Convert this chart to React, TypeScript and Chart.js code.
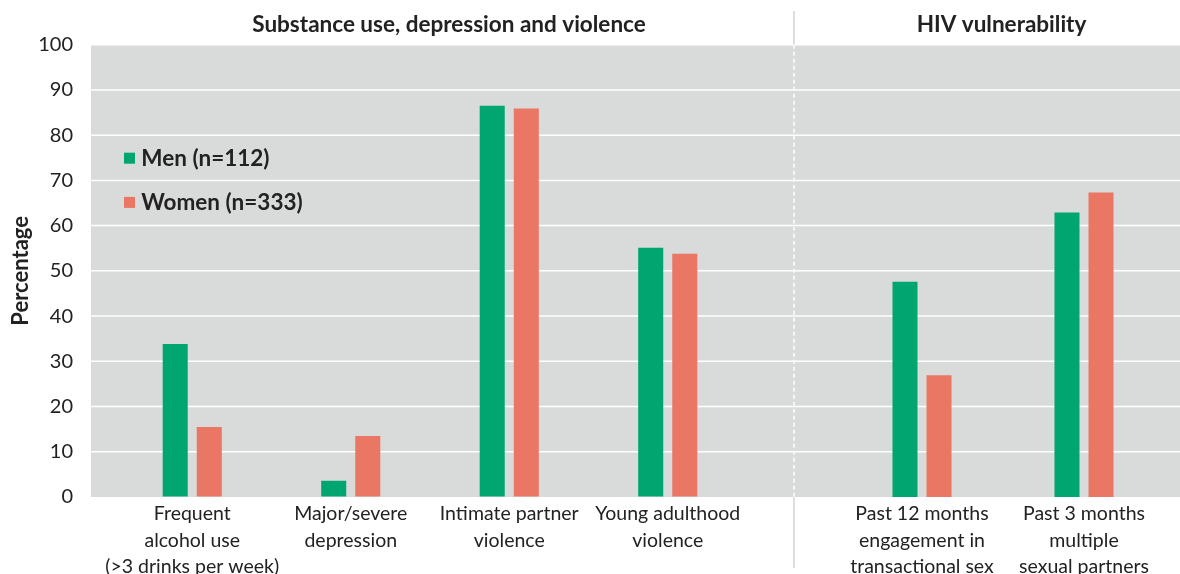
import React, { useEffect, useRef } from "react";
import { Chart, registerables } from "chart.js";

Chart.register(...registerables);

// ---- data -------------------------------------------------------------
const seriesNames = ["Men (n=112)", "Women (n=333)"];
const seriesColors = ["#00a56f", "#ea7763"];

const substanceTitle = "Substance use, depression and violence";
const substanceCategories = [
  ["Frequent", "alcohol use", "(>3 drinks per week)"],
  ["Major/severe", "depression"],
  ["Intimate partner", "violence"],
  ["Young adulthood", "violence"],
];
const menSubstance = [33.8, 3.6, 86.5, 55.1];
const womenSubstance = [15.5, 13.5, 85.9, 53.8];

const hivTitle = "HIV vulnerability";
const hivCategories = [
  ["Past 12 months", "engagement in", "transactional sex"],
  ["Past 3 months", "multiple", "sexual partners"],
];
const menHiv = [47.6, 62.9];
const womenHiv = [26.9, 67.3];

const yAxisTitle = "Percentage";
const Y_MIN = 0;
const Y_MAX = 100;
const Y_STEP = 10;

// ---- styling ----------------------------------------------------------
const FONT = "Lato, 'Open Sans', sans-serif";
const TEXT = "#222222";
const PANEL_GRAY = "#d9dbda";
const DIVIDER_GRAY = "#d4d4d4";

const HEIGHT = 574;
const LEFT_WIDTH = 794;
const RIGHT_LEFT = 790;
const RIGHT_WIDTH = 390;
const TOP_PAD = 44.7;
const X_AXIS_HEIGHT = 77;

// Gray panel, white gridlines and the section divider
const panelPlugin = {
  id: "panel",
  beforeDraw(chart: any, _args: any, opts: any) {
    const { ctx, chartArea, scales } = chart;
    const { top, bottom } = chartArea;
    const x0 = opts.panelLeft;
    const x1 = opts.panelRight;
    ctx.save();
    ctx.fillStyle = PANEL_GRAY;
    ctx.fillRect(x0, top, x1 - x0, bottom - top);

    ctx.strokeStyle = "#ffffff";
    ctx.lineWidth = 1.5;
    scales.y.ticks.forEach((t: any) => {
      if (t.value === Y_MIN) return;
      const y = scales.y.getPixelForValue(t.value);
      ctx.beginPath();
      ctx.moveTo(x0, y);
      ctx.lineTo(x1, y);
      ctx.stroke();
    });

    if (opts.divider) {
      const x = x0;
      ctx.lineWidth = 1.5;
      ctx.strokeStyle = DIVIDER_GRAY;
      ctx.beginPath();
      ctx.moveTo(x, 11);
      ctx.lineTo(x, top);
      ctx.moveTo(x, bottom);
      ctx.lineTo(x, 568);
      ctx.stroke();
      ctx.strokeStyle = "#ffffff";
      ctx.setLineDash([4, 3]);
      ctx.beginPath();
      ctx.moveTo(x, top);
      ctx.lineTo(x, bottom);
      ctx.stroke();
    }
    ctx.restore();
  },
};

// Section heading above each panel
const headerPlugin = {
  id: "sectionHeader",
  afterDraw(chart: any, _args: any, opts: any) {
    const { ctx, chartArea } = chart;
    ctx.save();
    ctx.font = `bold 22.5px ${FONT}`;
    ctx.fillStyle = TEXT;
    ctx.textAlign = "center";
    ctx.textBaseline = "alphabetic";
    ctx.fillText(opts.text, (chartArea.left + chartArea.right) / 2 + opts.dx, 32.3);
    ctx.restore();
  },
};

// Series key placed inside the plot area
const keyPlugin = {
  id: "seriesKey",
  afterDatasetsDraw(chart: any, _args: any, opts: any) {
    if (!opts.show) return;
    const { ctx, chartArea } = chart;
    ctx.save();
    ctx.font = `bold 22.5px ${FONT}`;
    ctx.textAlign = "left";
    ctx.textBaseline = "alphabetic";
    chart.data.datasets.forEach((ds: any, i: number) => {
      const sx = chartArea.left + 11;
      const sy = chartArea.top + 108 + i * 44.2;
      ctx.fillStyle = ds.backgroundColor;
      ctx.fillRect(sx, sy, 11, 11);
      ctx.fillStyle = TEXT;
      ctx.fillText(ds.label, sx + 17.3, sy + 12.8);
    });
    ctx.restore();
  },
};

function makeConfig(
  labels: string[][],
  men: number[],
  women: number[],
  opts: {
    withAxis: boolean;
    padding: { top: number; left: number; right: number; bottom: number };
    catPct: number;
    panelLeft: number;
    panelRight: number;
    divider: boolean;
    header: string;
    headerDx: number;
    showKey: boolean;
  }
): any {
  const barStyle = {
    categoryPercentage: opts.catPct,
    barPercentage: 0.735,
    borderWidth: 0,
  };
  return {
    type: "bar",
    data: {
      labels,
      datasets: [
        { label: seriesNames[0], data: men, backgroundColor: seriesColors[0], ...barStyle },
        { label: seriesNames[1], data: women, backgroundColor: seriesColors[1], ...barStyle },
      ],
    },
    options: {
      animation: false,
      responsive: false,
      devicePixelRatio: 1,
      events: [],
      layout: { padding: opts.padding },
      plugins: {
        legend: { display: false },
        title: { display: false },
        tooltip: { enabled: false },
        panel: { panelLeft: opts.panelLeft, panelRight: opts.panelRight, divider: opts.divider },
        sectionHeader: { text: opts.header, dx: opts.headerDx },
        seriesKey: { show: opts.showKey },
      },
      scales: {
        x: {
          type: "category",
          offset: true,
          grid: { display: false, drawTicks: false },
          border: { display: false },
          ticks: {
            autoSkip: false,
            maxRotation: 0,
            minRotation: 0,
            padding: 3.5,
            color: TEXT,
            font: { family: FONT, size: 19.5, lineHeight: "26.5px" },
          },
          afterFit: (s: any) => {
            s.height = X_AXIS_HEIGHT;
          },
        },
        y: {
          display: opts.withAxis,
          min: Y_MIN,
          max: Y_MAX,
          // invisible tick marks keep the labels clear of the gray panel
          grid: {
            display: true,
            drawOnChartArea: false,
            drawTicks: true,
            tickLength: 37,
            color: "rgba(0,0,0,0)",
          },
          border: { display: false },
          ticks: {
            stepSize: Y_STEP,
            padding: 3,
            color: TEXT,
            font: { family: FONT, size: 20 },
          },
          title: {
            display: true,
            text: yAxisTitle,
            color: TEXT,
            font: { family: FONT, size: 22, weight: "bold" },
            padding: { top: 8, bottom: 0 },
          },
          afterFit: (s: any) => {
            if (opts.withAxis) s.width = 113;
          },
        },
      },
    },
    plugins: [panelPlugin, headerPlugin, keyPlugin],
  };
}

export default function App() {
  const leftRef = useRef<HTMLCanvasElement | null>(null);
  const rightRef = useRef<HTMLCanvasElement | null>(null);

  useEffect(() => {
    if (!leftRef.current || !rightRef.current) return;
    const left = new Chart(
      leftRef.current,
      makeConfig(substanceCategories, menSubstance, womenSubstance, {
        withAxis: true,
        padding: { top: TOP_PAD, left: 0, right: 47, bottom: 0 },
        catPct: 0.43,
        panelLeft: 91,
        panelRight: LEFT_WIDTH,
        divider: false,
        header: substanceTitle,
        headerDx: 19,
        showKey: true,
      })
    );
    const right = new Chart(
      rightRef.current,
      makeConfig(hivCategories, menHiv, womenHiv, {
        withAxis: false,
        padding: { top: TOP_PAD, left: 51, right: 15, bottom: 0 },
        catPct: 0.42,
        panelLeft: LEFT_WIDTH - RIGHT_LEFT,
        panelRight: RIGHT_WIDTH,
        divider: true,
        header: hivTitle,
        headerDx: -1.5,
        showKey: false,
      })
    );
    return () => {
      left.destroy();
      right.destroy();
    };
  }, []);

  return (
    <div
      style={{
        position: "absolute",
        left: 0,
        top: 0,
        width: 1180,
        height: HEIGHT,
        background: "#ffffff",
        overflow: "hidden",
      }}
    >
      <canvas
        ref={leftRef}
        width={LEFT_WIDTH}
        height={HEIGHT}
        style={{ position: "absolute", left: 0, top: 0, width: LEFT_WIDTH, height: HEIGHT }}
      />
      <canvas
        ref={rightRef}
        width={RIGHT_WIDTH}
        height={HEIGHT}
        style={{ position: "absolute", left: RIGHT_LEFT, top: 0, width: RIGHT_WIDTH, height: HEIGHT }}
      />
    </div>
  );
}
